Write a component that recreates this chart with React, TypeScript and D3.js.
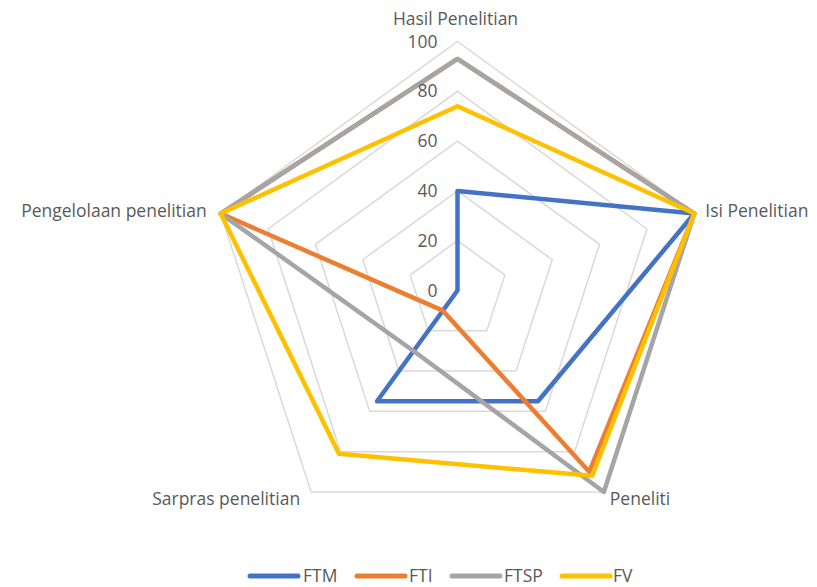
import React from "react";
import * as d3 from "d3";

const categories = ["Hasil Penelitian", "Isi Penelitian", "Peneliti", "Sarpras penelitian", "Pengelolaan penelitian"];
const seriesNames = ["FTM", "FTI", "FTSP", "FV"];
const FTM = [40, 100, 55, 55, 0];
const FTI = [93, 100, 90, 10, 100];
const FTSP = [93, 100, 100, 30, 100];
const FV = [74, 100, 92, 81, 100];
const ticks = [0, 20, 40, 60, 80, 100];
const colors = ["#4472C4", "#ED7D31", "#A5A5A5", "#FFC000"];

const W = 817, H = 587;
const cx = 457.5, cy = 290.5, R = 249;
const FONT = "'Open Sans', sans-serif";
const TXT = "#595959";

export default function App() {
  const r = d3.scaleLinear().domain([0, 100]).range([0, R]);
  const angle = d3.scaleLinear().domain([0, categories.length]).range([0, 2 * Math.PI]);
  const radial = d3.lineRadial<number>()
    .angle((_, i) => angle(i))
    .radius((d) => r(d))
    .curve(d3.curveLinearClosed);
  const allSeries = [FTM, FTI, FTSP, FV];

  const pt = (i: number, v: number) => {
    const a = angle(i);
    return [cx + r(v) * Math.sin(a), cy - r(v) * Math.cos(a)];
  };

  // label placement per category
  const labelPos = categories.map((c, i) => {
    const [x, y] = pt(i, 100);
    if (i === 0) return { x: x - 2, y: 25, anchor: "middle" };
    if (i === 1) return { x: x + 11, y: y + 3.5, anchor: "start" };
    if (i === 2) return { x: x + 6, y: 505, anchor: "start" };
    if (i === 3) return { x: x - 11, y: 505, anchor: "end" };
    return { x: x - 14, y: y + 3.5, anchor: "end" };
  });

  const legendItems = [
    { x: 250, tx: 303 },
    { x: 357, tx: 409 },
    { x: 452, tx: 504 },
    { x: 562, tx: 613 },
  ];

  return (
    <svg width={W} height={H} style={{ position: "absolute", left: 0, top: 0, background: "#fff" }}>
      <g>
        {ticks.filter((t) => t > 0).map((t) => (
          <path
            key={t}
            d={radial(categories.map(() => t)) as string}
            transform={`translate(${cx},${cy})`}
            fill="none"
            stroke="#D9D9D9"
            strokeWidth={1.5}
          />
        ))}
      </g>
      <g>
        {allSeries.map((s, k) => (
          <path
            key={k}
            d={radial(s) as string}
            transform={`translate(${cx},${cy})`}
            fill="none"
            stroke={colors[k]}
            strokeWidth={4.5}
            strokeLinejoin="round"
          />
        ))}
      </g>
      <g fontFamily={FONT} fontSize={17.5} fill={TXT}>
        {ticks.map((t) => (
          <text key={t} x={cx - 20} y={cy - r(t)} dy="0.35em" textAnchor="end">
            {t}
          </text>
        ))}
      </g>
      <g fontFamily={FONT} fontSize={17.5} fill={TXT}>
        {categories.map((c, i) => (
          <text key={c} x={labelPos[i].x} y={labelPos[i].y} textAnchor={labelPos[i].anchor as any}>
            {c}
          </text>
        ))}
      </g>
      <g fontFamily={FONT} fontSize={17.5} fill={TXT}>
        {seriesNames.map((n, k) => (
          <g key={n}>
            <line
              x1={legendItems[k].x}
              x2={legendItems[k].x + 48}
              y1={576}
              y2={576}
              stroke={colors[k]}
              strokeWidth={5}
              strokeLinecap="round"
            />
            <text x={legendItems[k].tx} y={576} dy="0.35em">
              {n}
            </text>
          </g>
        ))}
      </g>
    </svg>
  );
}
